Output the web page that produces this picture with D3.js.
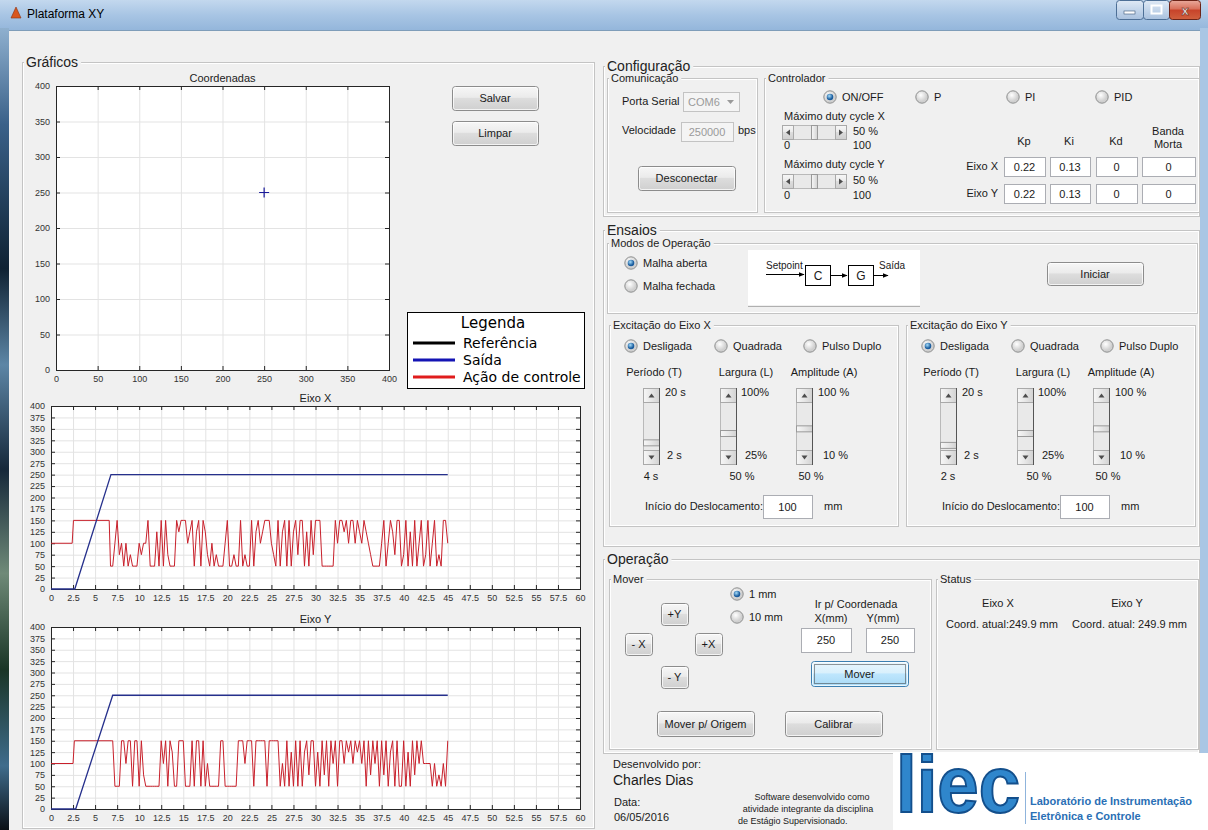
<!DOCTYPE html>
<html>
<head>
<meta charset="utf-8">
<script src="https://cdn.jsdelivr.net/npm/d3@7"></script>
<style>
  body { margin: 0; background: #f0f0f0; overflow: hidden; }
  svg { display: block; }
</style>
</head>
<body>
<script>
const FONT = '"Liberation Sans", Arial, sans-serif';
const LEG_FONT = '"DejaVu Sans", Verdana, sans-serif';

// ---- dados dos graficos ----
const coordTicks = [0, 50, 100, 150, 200, 250, 300, 350, 400];
const tempoTicks = [0, 2.5, 5, 7.5, 10, 12.5, 15, 17.5, 20, 22.5, 25, 27.5, 30,
  32.5, 35, 37.5, 40, 42.5, 45, 47.5, 50, 52.5, 55, 57.5, 60];
const posTicks = [0, 25, 50, 75, 100, 125, 150, 175, 200, 225, 250, 275, 300, 325, 350, 375, 400];
const pontoAtual = [[250, 250]];

const legendaNomes = ["Referência", "Saída", "Ação de controle"];
const legendaCores = ["#000000", "#1414b4", "#e01c1c"];

// saida (posicao) de cada eixo: pares [tempo, mm]
const saidaX = [[0, 0], [2.7, 0], [6.8, 250], [45, 250]];
const saidaY = [[0, 0], [2.8, 0], [7.0, 250], [45, 250]];

// acao de controle: trecho inicial e depois amostras a cada 0.25 s
const acaoXInicio = [[0, 100], [2.4, 100], [2.55, 150], [6.6, 150]];
const acaoXT0 = 6.75;
const acaoXValores = [
  50, 50, 100, 150,  75, 100, 50, 100,  50, 75, 50, 50,  50, 100, 75, 100,
  100, 150, 50, 50,  50, 125, 50, 150,  50, 150, 75, 50,  50, 50, 150, 125,
  150, 150, 150, 100,  125, 150, 50, 125,  150, 50, 150, 125,  75, 50, 100, 50,
  75, 50, 50, 50,  100, 150, 50, 50,  75, 50, 50, 150,  50, 75, 50, 50,
  150, 50, 125, 150,  100, 125, 150, 150,  150, 100, 75, 50,  150, 50, 125, 150,
  50, 150, 50, 125,  150, 75, 150, 150,  50, 125, 50, 150,  75, 150, 150, 150,
  50, 50, 50, 50,  50, 50, 150, 100,  150, 150, 125, 150,  100, 150, 150, 100,
  150, 125, 100, 150,  125, 100, 75, 50,  50, 50, 50, 100,  150, 50, 100, 150,
  125, 75, 150, 150,  50, 75, 150, 50,  125, 50, 150, 50,  100, 150, 50, 75,
  150, 50, 100, 150,  50, 75, 50, 150,  150, 100
];
const acaoYInicio = [[0, 100], [2.5, 100], [2.65, 150], [6.9, 150]];
const acaoYT0 = 7.0;
const acaoYValores = [
  150, 50, 50, 50,  150, 150, 100, 150,  150, 50, 150, 150,  50, 150, 75, 50,
  50, 50, 50, 50,  50, 50, 150, 100,  150, 50, 150, 125,  50, 50, 150, 150,
  150, 50, 50, 50,  150, 50, 150, 150,  50, 150, 50, 100,  50, 50, 50, 50,
  50, 150, 150, 50,  50, 50, 50, 50,  50, 150, 150, 150,  100, 150, 150, 150,
  50, 150, 150, 150,  150, 150, 50, 150,  150, 150, 150, 150,  50, 100, 50, 150,
  50, 125, 50, 150,  50, 150, 50, 125,  150, 75, 150, 150,  50, 125, 50, 150,
  75, 150, 50, 150,  100, 150, 50, 150,  150, 100, 150, 125,  150, 100, 150, 125,
  150, 100, 150, 50,  150, 75, 150, 100,  150, 50, 150, 75,  150, 50, 125, 150,
  50, 150, 50, 50,  150, 50, 125, 50,  150, 75, 150, 100,  150, 100, 100, 100,
  100, 50, 100, 50,  75, 50, 100, 50,  150
];
const passo = 0.25;

const serieAcao = (inicio, t0, vals) =>
  inicio.concat(vals.map((v, i) => [t0 + i * passo, v]));

// ---- svg ----
const svg = d3.select("body").append("svg")
  .attr("width", 1208).attr("height", 830)
  .style("font-family", FONT);

const defs = svg.append("defs");
function linGrad(id, stops, vertical = true) {
  const g = defs.append("linearGradient").attr("id", id)
    .attr("x1", 0).attr("y1", 0).attr("x2", vertical ? 0 : 1).attr("y2", vertical ? 1 : 0);
  stops.forEach(([o, c]) => g.append("stop").attr("offset", o).attr("stop-color", c));
}
linGrad("gTitle", [[0, "#c3d8ee"], [0.5, "#a8c5e4"], [1, "#94b6db"]]);
linGrad("gBtn", [[0, "#f7f7f7"], [0.45, "#ebebeb"], [0.5, "#dddddd"], [1, "#cfcfcf"]]);
linGrad("gHot", [[0, "#eaf6fd"], [0.45, "#d9f0fc"], [0.5, "#bee6fd"], [1, "#a7d9f5"]]);
linGrad("gBtnH", [[0, "#f7f7f7"], [0.5, "#e6e6e6"], [1, "#d2d2d2"]], false);
linGrad("gWin", [[0, "#dfe9f5"], [0.5, "#c3d5ea"], [1, "#a9c1de"]]);
linGrad("gClose", [[0, "#e9a99b"], [0.45, "#d8705a"], [0.5, "#c7432a"], [1, "#d0603e"]]);
linGrad("gStrip", [[0, "#8fb0cf"], [0.12, "#3a6189"], [0.3, "#0f2233"], [0.42, "#5d86a6"],
  [0.55, "#16283a"], [0.68, "#6f8a78"], [0.8, "#1a3526"], [0.92, "#3f6c8c"], [1, "#0b1016"]]);
const rg = defs.append("radialGradient").attr("id", "gRadio").attr("cx", "40%").attr("cy", "35%");
rg.append("stop").attr("offset", 0).attr("stop-color", "#ffffff");
rg.append("stop").attr("offset", 1).attr("stop-color", "#cfcfcf");
const rd = defs.append("radialGradient").attr("id", "gDot").attr("cx", "40%").attr("cy", "35%");
rd.append("stop").attr("offset", 0).attr("stop-color", "#a6ddfa");
rd.append("stop").attr("offset", 1).attr("stop-color", "#1b5d9e");
defs.append("marker").attr("id", "seta").attr("viewBox", "0 0 10 10")
  .attr("refX", 9).attr("refY", 5).attr("markerWidth", 6).attr("markerHeight", 6)
  .attr("orient", "auto")
  .append("path").attr("d", "M0,1 L10,5 L0,9 Z").attr("fill", "#000");

// janela
svg.append("rect").attr("x", 0).attr("y", 0).attr("width", 1208).attr("height", 830).attr("fill", "#f0f0f0");
svg.append("rect").attr("x", 0).attr("y", 0).attr("width", 1208).attr("height", 30).attr("fill", "url(#gTitle)");
svg.append("rect").attr("x", 0).attr("y", 28).attr("width", 9).attr("height", 802).attr("fill", "url(#gStrip)");
svg.append("rect").attr("x", 1200).attr("y", 28).attr("width", 8).attr("height", 802).attr("fill", "#a9c6e4");
svg.append("line").attr("x1", 9).attr("x2", 1200).attr("y1", 30.5).attr("y2", 30.5).attr("stroke", "#7f9db9");
svg.append("path").attr("d", "M11,18 L16,7 L21,18 Z").attr("fill", "#d8571f").attr("stroke", "#8a2f10").attr("stroke-width", 0.6);
svg.append("text").attr("x", 27).attr("y", 18).attr("font-size", 12).attr("fill", "#000").text("Plataforma XY");

const wb = svg.append("g");
wb.append("rect").attr("x", 1116.5).attr("y", 0.5).attr("width", 27).attr("height", 19).attr("rx", 3).attr("fill", "url(#gWin)").attr("stroke", "#4d6f96");
wb.append("rect").attr("x", 1124).attr("y", 11).attr("width", 11).attr("height", 3).attr("fill", "#fff").attr("stroke", "#3a5677").attr("stroke-width", 0.6);
wb.append("rect").attr("x", 1143.5).attr("y", 0.5).attr("width", 26).attr("height", 19).attr("rx", 3).attr("fill", "url(#gWin)").attr("stroke", "#4d6f96");
wb.append("rect").attr("x", 1151.5).attr("y", 5.5).attr("width", 10).attr("height", 8).attr("fill", "none").attr("stroke", "#fff").attr("stroke-width", 2);
wb.append("rect").attr("x", 1169.5).attr("y", 0.5).attr("width", 31).attr("height", 19).attr("rx", 3).attr("fill", "url(#gClose)").attr("stroke", "#6b2418");
wb.append("text").attr("x", 1185).attr("y", 15).attr("text-anchor", "middle").attr("font-size", 13)
  .attr("font-weight", "bold").attr("fill", "#fff").attr("stroke", "#5a1c10").attr("stroke-width", 0.5).text("x");

const ui = svg.append("g");

function txt(x, y, s, o = {}) {
  return ui.append("text").attr("x", x).attr("y", y).text(s)
    .attr("font-size", o.fs || 11).attr("fill", o.fill || "#1a1a1a")
    .attr("text-anchor", o.anchor || "start")
    .attr("font-weight", o.fw || null)
    .attr("font-family", o.ff || null);
}

function painel(x, y, w, h, titulo, fs) {
  ui.append("rect").attr("x", x + 0.5).attr("y", y + 0.5).attr("width", w).attr("height", h)
    .attr("fill", "none").attr("stroke", "#c4c4c4");
  ui.append("rect").attr("x", x + 1.5).attr("y", y + 1.5).attr("width", w - 2).attr("height", h - 2)
    .attr("fill", "none").attr("stroke", "#ffffff");
  const t = txt(x + 4, y + fs * 0.36, titulo, { fs: fs, fill: "#222" });
  const len = t.node().getComputedTextLength();
  ui.insert("rect", () => t.node()).attr("x", x + 2).attr("y", y - 2)
    .attr("width", len + 5).attr("height", 5).attr("fill", "#f0f0f0");
}

function botao(x, y, w, h, label, hot) {
  ui.append("rect").attr("x", x + 0.5).attr("y", y + 0.5).attr("width", w).attr("height", h).attr("rx", 3)
    .attr("fill", hot ? "url(#gHot)" : "url(#gBtn)").attr("stroke", hot ? "#3c7fb1" : "#8c8c8c");
  ui.append("rect").attr("x", x + 1.5).attr("y", y + 1.5).attr("width", w - 2).attr("height", h - 2).attr("rx", 2)
    .attr("fill", "none").attr("stroke", "rgba(255,255,255,0.75)");
  if (hot) {
    ui.append("rect").attr("x", x + 3.5).attr("y", y + 3.5).attr("width", w - 6).attr("height", h - 6)
      .attr("fill", "none").attr("stroke", "#333").attr("stroke-dasharray", "1,1");
  }
  txt(x + w / 2, y + h / 2 + 4, label, { anchor: "middle" });
}

function caixa(x, y, w, h, valor, desab) {
  ui.append("rect").attr("x", x + 0.5).attr("y", y + 0.5).attr("width", w).attr("height", h)
    .attr("fill", desab ? "#f4f4f4" : "#ffffff").attr("stroke", desab ? "#c3c3c3" : "#abadb3");
  txt(x + w / 2, y + h / 2 + 4, valor, { anchor: "middle", fill: desab ? "#9a9a9a" : "#1a1a1a" });
}

function radio(cx, cy, on, label) {
  ui.append("circle").attr("cx", cx).attr("cy", cy).attr("r", 6.2)
    .attr("fill", "url(#gRadio)").attr("stroke", "#8e8f8f");
  if (on) ui.append("circle").attr("cx", cx).attr("cy", cy).attr("r", 3.3).attr("fill", "url(#gDot)");
  txt(cx + 12, cy + 4, label);
}

function hSlider(x, y, w, h, frac) {
  ui.append("rect").attr("x", x + 0.5).attr("y", y + 0.5).attr("width", w).attr("height", h)
    .attr("fill", "#e9e9e9").attr("stroke", "#b9b9b9");
  [x, x + w - 11].forEach((bx, i) => {
    ui.append("rect").attr("x", bx + 0.5).attr("y", y + 0.5).attr("width", 11).attr("height", h)
      .attr("fill", "url(#gBtn)").attr("stroke", "#a9a9a9");
    const cx = bx + 6, cy = y + h / 2 + 0.5;
    ui.append("path").attr("d", i === 0
      ? `M${cx + 2},${cy - 3} L${cx + 2},${cy + 3} L${cx - 2},${cy} Z`
      : `M${cx - 2},${cy - 3} L${cx - 2},${cy + 3} L${cx + 2},${cy} Z`).attr("fill", "#4d4d4d");
  });
  const tx = x + 11 + frac * (w - 22 - 6);
  ui.append("rect").attr("x", tx + 0.5).attr("y", y + 0.5).attr("width", 6).attr("height", h)
    .attr("fill", "url(#gBtnH)").attr("stroke", "#9a9a9a");
}

function vSlider(x, y, w, h, frac) {
  ui.append("rect").attr("x", x + 0.5).attr("y", y + 0.5).attr("width", w).attr("height", h)
    .attr("fill", "#e9e9e9").attr("stroke", "#b9b9b9");
  [y, y + h - 14].forEach((by, i) => {
    ui.append("rect").attr("x", x + 0.5).attr("y", by + 0.5).attr("width", w).attr("height", 14)
      .attr("fill", "url(#gBtnH)").attr("stroke", "#a9a9a9");
    const cx = x + w / 2 + 0.5, cy = by + 7.5;
    ui.append("path").attr("d", i === 0
      ? `M${cx - 3},${cy + 2} L${cx + 3},${cy + 2} L${cx},${cy - 2} Z`
      : `M${cx - 3},${cy - 2} L${cx + 3},${cy - 2} L${cx},${cy + 2} Z`).attr("fill", "#4d4d4d");
  });
  const ty = y + 14 + (1 - frac) * (h - 28 - 6);
  ui.append("rect").attr("x", x + 0.5).attr("y", ty + 0.5).attr("width", w).attr("height", 6)
    .attr("fill", "url(#gBtnH)").attr("stroke", "#9a9a9a");
  ui.append("line").attr("x1", x + w + 0.5).attr("x2", x + w + 0.5).attr("y1", y).attr("y2", y + h + 1)
    .attr("stroke", "#555");
}

// ---- graficos ----
function grafico(cfg) {
  const g = svg.append("g");
  const x = d3.scaleLinear().domain(cfg.xDom).range([cfg.x, cfg.x + cfg.w]);
  const y = d3.scaleLinear().domain(cfg.yDom).range([cfg.y + cfg.h, cfg.y]);
  g.append("rect").attr("x", cfg.x).attr("y", cfg.y).attr("width", cfg.w).attr("height", cfg.h).attr("fill", "#fff");
  const grade = (s) => {
    s.select(".domain").remove();
    s.selectAll(".tick line").attr("stroke", "#e3e3e3");
  };
  g.append("g").attr("transform", `translate(0,${cfg.y + cfg.h})`)
    .call(d3.axisBottom(x).tickValues(cfg.xTicks).tickSize(-cfg.h).tickFormat("")).call(grade);
  g.append("g").attr("transform", `translate(${cfg.x},0)`)
    .call(d3.axisLeft(y).tickValues(cfg.yTicks).tickSize(-cfg.w).tickFormat("")).call(grade);
  const eixo = (s) => {
    s.select(".domain").remove();
    s.attr("font-family", FONT).attr("font-size", 9);
    s.selectAll(".tick line").attr("stroke", "#262626");
    s.selectAll(".tick text").attr("fill", "#333");
  };
  g.append("g").attr("transform", `translate(0,${cfg.y + cfg.h})`)
    .call(d3.axisBottom(x).tickValues(cfg.xTicks).tickSize(-4).tickPadding(6).tickFormat(String)).call(eixo);
  g.append("g").attr("transform", `translate(${cfg.x},0)`)
    .call(d3.axisLeft(y).tickValues(cfg.yTicks).tickSize(-4).tickPadding(6).tickFormat(String)).call(eixo);
  g.append("g").attr("transform", `translate(0,${cfg.y})`)
    .call(d3.axisTop(x).tickValues(cfg.xTicks).tickSize(-4).tickFormat("")).call(eixo);
  g.append("g").attr("transform", `translate(${cfg.x + cfg.w},0)`)
    .call(d3.axisRight(y).tickValues(cfg.yTicks).tickSize(-4).tickFormat("")).call(eixo);
  g.append("rect").attr("x", cfg.x + 0.5).attr("y", cfg.y + 0.5).attr("width", cfg.w).attr("height", cfg.h)
    .attr("fill", "none").attr("stroke", "#262626");
  g.append("text").attr("x", cfg.x + cfg.w / 2).attr("y", cfg.y - 4).attr("text-anchor", "middle")
    .attr("font-size", 11).attr("fill", "#222").text(cfg.titulo);
  return { g, x, y };
}

painel(22, 62, 572, 766, "Gráficos", 14);

const coord = grafico({ x: 56, y: 86, w: 333, h: 284, xDom: [0, 400], yDom: [0, 400],
  xTicks: coordTicks, yTicks: coordTicks, titulo: "Coordenadas" });
coord.g.selectAll(".marca").data(pontoAtual).enter().append("path")
  .attr("d", d => {
    const cx = coord.x(d[0]), cy = coord.y(d[1]);
    return `M${cx - 5},${cy} L${cx + 5},${cy} M${cx},${cy - 5} L${cx},${cy + 5}`;
  })
  .attr("stroke", "#1a1a9a").attr("stroke-width", 1.2);

function desenhaSeries(p, saida, acao) {
  const linha = d3.line().x(d => p.x(d[0])).y(d => p.y(d[1]));
  p.g.append("path").datum(acao).attr("d", linha).attr("fill", "none")
    .attr("stroke", "#c8202b").attr("stroke-width", 1);
  p.g.append("path").datum(saida).attr("d", linha).attr("fill", "none")
    .attr("stroke", "#26308c").attr("stroke-width", 1.3);
}

const px = grafico({ x: 51, y: 406, w: 529, h: 183, xDom: [0, 60], yDom: [0, 400],
  xTicks: tempoTicks, yTicks: posTicks, titulo: "Eixo X" });
desenhaSeries(px, saidaX, serieAcao(acaoXInicio, acaoXT0, acaoXValores));

const py = grafico({ x: 51, y: 627, w: 529, h: 182, xDom: [0, 60], yDom: [0, 400],
  xTicks: tempoTicks, yTicks: posTicks, titulo: "Eixo Y" });
desenhaSeries(py, saidaY, serieAcao(acaoYInicio, acaoYT0, acaoYValores));

// legenda
const leg = svg.append("g").attr("transform", "translate(407,312)");
leg.append("rect").attr("x", 0.5).attr("y", 0.5).attr("width", 177).attr("height", 76)
  .attr("fill", "#fff").attr("stroke", "#000");
leg.append("text").attr("x", 86).attr("y", 16).attr("text-anchor", "middle")
  .attr("font-family", LEG_FONT).attr("font-size", 15).attr("fill", "#000").text("Legenda");
const li = leg.selectAll(".item").data(legendaNomes).enter().append("g")
  .attr("transform", (d, i) => `translate(0,${31 + i * 17})`);
li.append("line").attr("x1", 6).attr("x2", 48).attr("stroke-width", 3)
  .attr("stroke", (d, i) => legendaCores[i]);
li.append("text").attr("x", 56).attr("y", 5).attr("font-family", LEG_FONT).attr("font-size", 14)
  .attr("fill", "#000").text(d => d);

botao(452, 86, 86, 24, "Salvar");
botao(452, 121, 86, 24, "Limpar");

// ---- Configuracao ----
painel(603, 66, 596, 150, "Configuração", 14);
painel(607, 78, 150, 134, "Comunicação", 11);
txt(622, 105, "Porta Serial");
ui.append("rect").attr("x", 683.5).attr("y", 92.5).attr("width", 56).attr("height", 19)
  .attr("fill", "#f4f4f4").attr("stroke", "#c3c3c3");
txt(688, 106, "COM6", { fill: "#9a9a9a" });
ui.append("path").attr("d", "M727,100 L734,100 L730.5,104 Z").attr("fill", "#9a9a9a");
txt(622, 134, "Velocidade");
caixa(681, 122, 52, 19, "250000", true);
txt(738, 134, "bps");
botao(638, 166, 97, 24, "Desconectar");

painel(764, 78, 435, 134, "Controlador", 11);
radio(830, 97, true, "ON/OFF");
radio(922, 97, false, "P");
radio(1013, 97, false, "PI");
radio(1102, 97, false, "PID");
txt(784, 120, "Máximo duty cycle X");
hSlider(782, 125, 64, 14, 0.5);
txt(853, 135, "50 %");
txt(784, 149, "0");
txt(871, 149, "100", { anchor: "end" });
txt(784, 168, "Máximo duty cycle Y");
hSlider(782, 174, 64, 14, 0.5);
txt(853, 184, "50 %");
txt(784, 199, "0");
txt(871, 199, "100", { anchor: "end" });
txt(1024, 145, "Kp", { anchor: "middle" });
txt(1069, 145, "Ki", { anchor: "middle" });
txt(1116, 145, "Kd", { anchor: "middle" });
txt(1168, 135, "Banda", { anchor: "middle" });
txt(1168, 148, "Morta", { anchor: "middle" });
txt(998, 170, "Eixo X", { anchor: "end" });
txt(998, 197, "Eixo Y", { anchor: "end" });
[[1004, 41, "0.22"], [1050, 40, "0.13"], [1096, 41, "0"], [1142, 53, "0"]].forEach(([x, w, v]) => {
  caixa(x, 157, w, 19, v);
  caixa(x, 184, w, 19, v);
});

// ---- Ensaios ----
painel(603, 230, 596, 316, "Ensaios", 14);
painel(607, 243, 590, 70, "Modos de Operação", 11);
radio(631, 263, true, "Malha aberta");
radio(631, 286, false, "Malha fechada");
ui.append("rect").attr("x", 748).attr("y", 250).attr("width", 172).attr("height", 55).attr("fill", "#fff");
ui.append("line").attr("x1", 748).attr("x2", 920).attr("y1", 306.5).attr("y2", 306.5).attr("stroke", "#b0b0b0");
txt(766, 269, "Setpoint", { fs: 10 });
ui.append("line").attr("x1", 766).attr("x2", 804).attr("y1", 274.5).attr("y2", 274.5).attr("stroke", "#000").attr("marker-end", "url(#seta)");
ui.append("rect").attr("x", 805.5).attr("y", 265.5).attr("width", 25).attr("height", 20).attr("fill", "#fff").attr("stroke", "#000");
txt(818, 280, "C", { anchor: "middle", fs: 12 });
ui.append("line").attr("x1", 831).attr("x2", 847).attr("y1", 275.5).attr("y2", 275.5).attr("stroke", "#000").attr("marker-end", "url(#seta)");
ui.append("rect").attr("x", 848.5).attr("y", 265.5).attr("width", 25).attr("height", 20).attr("fill", "#fff").attr("stroke", "#000");
txt(861, 280, "G", { anchor: "middle", fs: 12 });
ui.append("line").attr("x1", 874).attr("x2", 888).attr("y1", 275.5).attr("y2", 275.5).attr("stroke", "#000").attr("marker-end", "url(#seta)");
txt(879, 269, "Saída", { fs: 10 });
botao(1047, 262, 96, 23, "Iniciar");

function excitacao(ox, titulo, periodo, periodoFrac, largFrac, ampFrac) {
  painel(ox, 325, 289, 201, titulo, 11);
  const d = ox - 609;
  radio(631 + d, 346, true, "Desligada");
  radio(721 + d, 346, false, "Quadrada");
  radio(810 + d, 346, false, "Pulso Duplo");
  txt(654 + d, 376, "Período (T)", { anchor: "middle" });
  txt(746 + d, 376, "Largura (L)", { anchor: "middle" });
  txt(824 + d, 376, "Amplitude (A)", { anchor: "middle" });
  vSlider(643 + d, 388, 16, 76, periodoFrac);
  txt(665 + d, 396, "20 s");
  txt(667 + d, 459, "2 s");
  txt(651 + d, 480, periodo, { anchor: "middle" });
  vSlider(720 + d, 388, 16, 76, largFrac);
  txt(741 + d, 396, "100%");
  txt(745 + d, 459, "25%");
  txt(742 + d, 480, "50 %", { anchor: "middle" });
  vSlider(796 + d, 388, 16, 76, ampFrac);
  txt(818 + d, 396, "100 %");
  txt(823 + d, 459, "10 %");
  txt(811 + d, 480, "50 %", { anchor: "middle" });
  txt(645 + d, 510, "Início do Deslocamento:");
  caixa(763 + d, 495, 49, 23, "100");
  txt(824 + d, 510, "mm");
}
excitacao(609, "Excitação do Eixo X", "4  s", (4 - 2) / 18, (50 - 25) / 75, (50 - 10) / 90);
excitacao(906, "Excitação do Eixo Y", "2  s", 0.05, (50 - 25) / 75, (50 - 10) / 90);

// ---- Operacao ----
painel(603, 559, 596, 194, "Operação", 14);
painel(609, 579, 322, 170, "Mover", 11);
radio(737, 594, true, "1 mm");
radio(737, 617, false, "10 mm");
txt(856, 608, "Ir p/ Coordenada", { anchor: "middle" });
txt(831, 622, "X(mm)", { anchor: "middle" });
txt(883, 622, "Y(mm)", { anchor: "middle" });
caixa(801, 628, 50, 24, "250");
caixa(866, 628, 48, 24, "250");
botao(661, 603, 27, 22, "+Y");
botao(625, 633, 27, 22, "- X");
botao(695, 633, 27, 22, "+X");
botao(661, 666, 27, 22, "- Y");
botao(811, 661, 97, 25, "Mover", true);
botao(657, 711, 97, 25, "Mover p/ Origem");
botao(785, 711, 97, 25, "Calibrar");

painel(936, 579, 262, 170, "Status", 11);
txt(998, 607, "Eixo X", { anchor: "middle" });
txt(1127, 607, "Eixo Y", { anchor: "middle" });
txt(946, 628, "Coord. atual:249.9  mm");
txt(1072, 628, "Coord. atual: 249.9 mm");

// ---- rodape ----
txt(613, 768, "Desenvolvido por:");
txt(613, 785, "Charles Dias", { fs: 14 });
txt(614, 806, "Data:");
txt(614, 821, "06/05/2016");
txt(812, 800, "Software desenvolvido como", { fs: 9, anchor: "middle" });
txt(808, 812, "atividade integrante da disciplina", { fs: 9, anchor: "middle" });
txt(738, 824, "de Estágio Supervisionado.", { fs: 9 });

ui.append("rect").attr("x", 893).attr("y", 753).attr("width", 315).attr("height", 77).attr("fill", "#fff");
ui.append("text").attr("x", 896).attr("y", 812).attr("font-family", FONT).attr("font-weight", "bold")
  .attr("font-size", 80).attr("textLength", 124).attr("lengthAdjust", "spacingAndGlyphs")
  .attr("fill", "#2f86cc").attr("stroke", "#134f8c").attr("stroke-width", 2).text("liec");
ui.append("line").attr("x1", 1025.5).attr("x2", 1025.5).attr("y1", 772).attr("y2", 824).attr("stroke", "#8fb4dc");
txt(1030, 805, "Laboratório de Instrumentação", { fw: "bold", fill: "#2a6fb5" });
txt(1030, 820, "Eletrônica e Controle", { fw: "bold", fill: "#2a6fb5" });
</script>
</body>
</html>
